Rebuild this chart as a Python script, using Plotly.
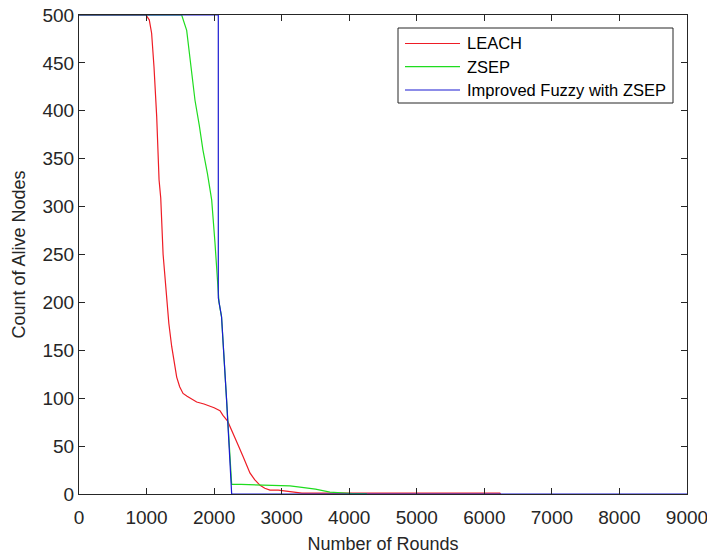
import plotly.graph_objects as go

# Network lifetime: number of alive nodes per round for three clustering protocols
leach_rounds = [0, 990, 1040, 1075, 1110, 1150, 1185, 1210, 1245, 1273, 1300, 1330, 1372,
                1410, 1446, 1490, 1540, 1600, 1650, 1742, 1850, 1939, 2000, 2087, 2131,
                2200, 2280, 2350, 2430, 2530, 2600, 2680, 2750, 2827, 2950, 3050, 3200,
                3300, 6230, 6240]
leach_alive = [500, 500, 495, 481, 446, 394, 328, 309, 250, 223, 200, 178, 154,
               135, 122, 112, 105, 102, 100, 96, 94, 92, 90, 87, 82,
               76, 64, 52, 39, 22, 15, 9, 6, 4, 4, 3, 2,
               1, 1, 0]

zsep_rounds = [0, 1520, 1594, 1650, 1717, 1780, 1835, 1900, 1964, 2013, 2040, 2072,
               2110, 2185, 2260, 2400, 2700, 3000, 3123, 3300, 3500, 3715, 3900,
               4050, 4250, 4260]
zsep_alive = [500, 500, 484, 450, 411, 385, 359, 335, 307, 262, 235, 200,
              185, 98, 10, 10, 9.5, 9, 8.5, 7, 5, 2, 1,
              0.5, 0.5, 0]

fuzzy_rounds = [0, 2062, 2062, 2075, 2110, 2185, 2260, 9000]
fuzzy_alive = [500, 500, 205, 200, 185, 98, 0, 0]

series = [
    ("LEACH", leach_rounds, leach_alive, "#ee1c25"),
    ("ZSEP", zsep_rounds, zsep_alive, "#1fdc1f"),
    ("Improved Fuzzy with ZSEP", fuzzy_rounds, fuzzy_alive, "#1a1ad2"),
]

x_ticks = list(range(0, 9001, 1000))
y_ticks = list(range(0, 501, 50))

W, H = 707, 554
L, R, T, B = 79, 20, 15, 60
axis_color = "#262626"
font_family = "Liberation Sans, Arial, Helvetica, sans-serif"

fig = go.Figure()
for name, xs, ys, color in series:
    fig.add_trace(go.Scatter(x=xs, y=ys, mode="lines", name=name,
                             line=dict(color=color, width=1.2),
                             showlegend=False))

axis_common = dict(
    showline=True, linecolor=axis_color, linewidth=1, mirror="ticks",
    ticks="inside", ticklen=6, tickcolor=axis_color, tickwidth=1,
    showgrid=False, zeroline=False, automargin=False,
    ticklabeloverflow="allow",
    tickfont=dict(family=font_family, size=19, color=axis_color),
)

fig.update_layout(
    width=W, height=H,
    margin=dict(l=L, r=R, t=T, b=B),
    paper_bgcolor="white", plot_bgcolor="white",
    xaxis=dict(range=[0, 9000], tickvals=x_ticks, ticklabelstandoff=6,
               title=dict(text="Number of Rounds", standoff=10,
                          font=dict(family=font_family, size=18, color=axis_color)),
               **axis_common),
    yaxis=dict(range=[0, 500], tickvals=y_ticks,
               title=dict(text="Count of Alive Nodes", standoff=12,
                          font=dict(family=font_family, size=18, color=axis_color)),
               **axis_common),
)

# Legend box drawn in the upper-right corner of the axes
plot_w = W - L - R
plot_h = H - T - B


def px_x(p):
    return (p - L) / plot_w


def px_y(p):
    return (H - B - p) / plot_h


box = dict(x0=398, x1=673, y0=28, y1=103)
fig.add_shape(type="rect", xref="paper", yref="paper",
              x0=px_x(box["x0"]), x1=px_x(box["x1"]),
              y0=px_y(box["y1"]), y1=px_y(box["y0"]),
              line=dict(color=axis_color, width=1), fillcolor="white", layer="above")

row_y = [43.5, 66.7, 90.0]
for (name, _, _, color), ry in zip(series, row_y):
    fig.add_shape(type="line", xref="paper", yref="paper",
                  x0=px_x(405), x1=px_x(460), y0=px_y(ry), y1=px_y(ry),
                  line=dict(color=color, width=1.2), layer="above")
    fig.add_annotation(x=px_x(465), y=px_y(ry), xref="paper", yref="paper",
                       text=name, showarrow=False, xanchor="left", yanchor="middle",
                       font=dict(family=font_family, size=16.5, color="#000000"))

fig.write_html("out.html")
